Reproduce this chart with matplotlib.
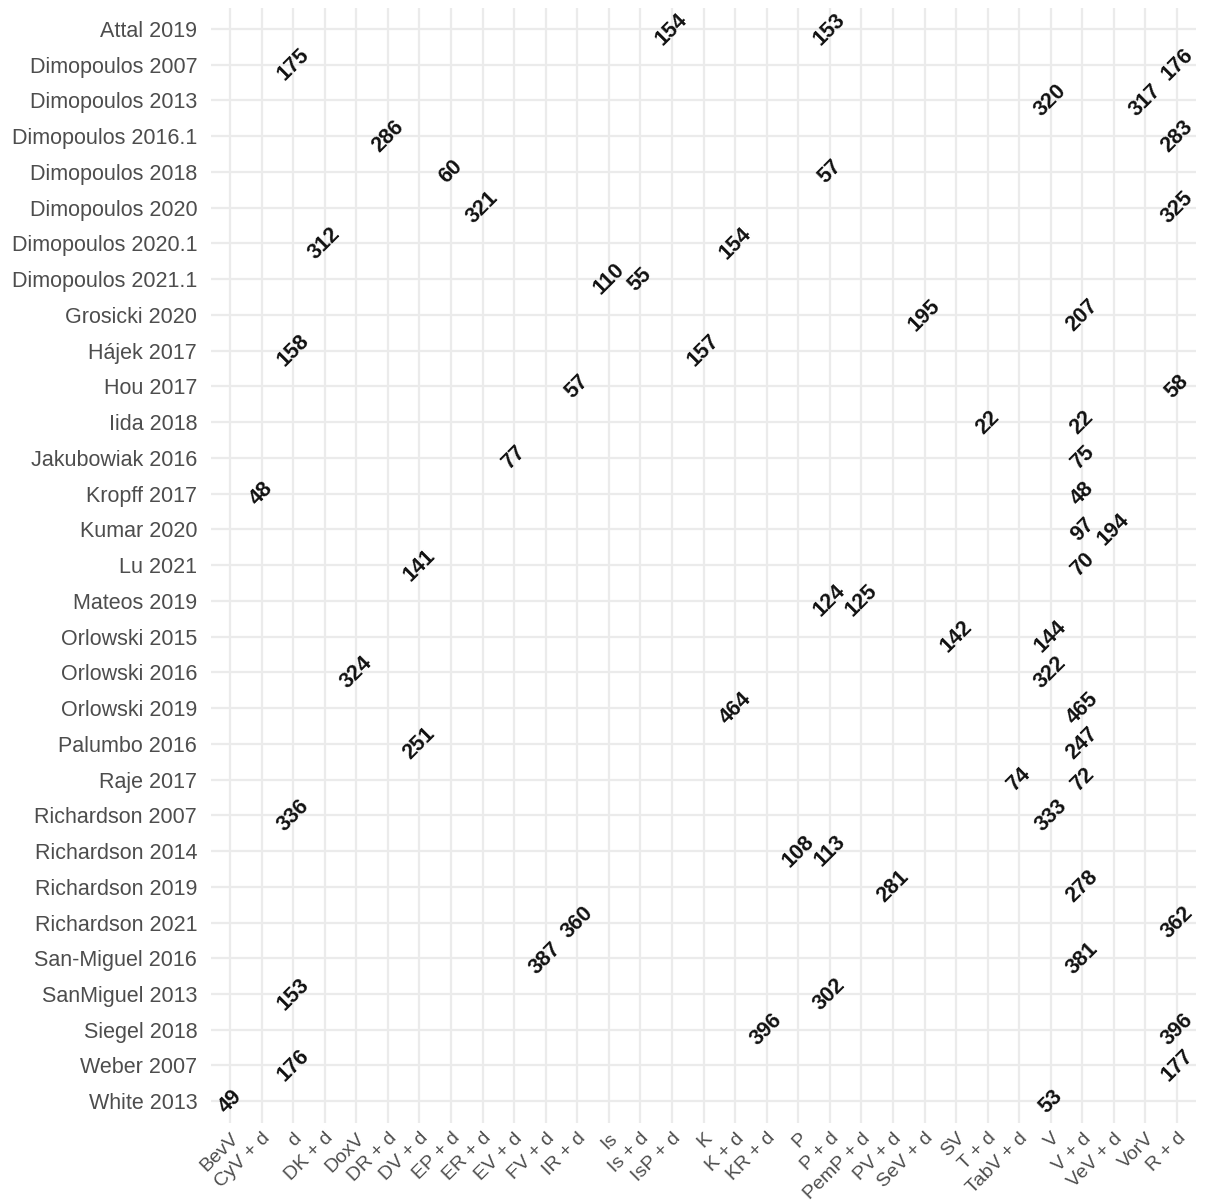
import matplotlib
matplotlib.use("Agg")
import matplotlib.pyplot as plt

# Treatment regimens along the x axis, in display order
regimens = ["BevV", "CyV + d", "d", "DK + d", "DoxV", "DR + d", "DV + d", "EP + d",
            "ER + d", "EV + d", "FV + d", "IR + d", "Is", "Is + d", "IsP + d", "K",
            "K + d", "KR + d", "P", "P + d", "PemP + d", "PV + d", "SeV + d", "SV",
            "T + d", "TabV + d", "V", "V + d", "VeV + d", "VorV", "R + d"]

# Trials, top to bottom
studies = ["Attal 2019", "Dimopoulos 2007", "Dimopoulos 2013", "Dimopoulos 2016.1",
           "Dimopoulos 2018", "Dimopoulos 2020", "Dimopoulos 2020.1", "Dimopoulos 2021.1",
           "Grosicki 2020", "Hájek 2017", "Hou 2017", "Iida 2018", "Jakubowiak 2016",
           "Kropff 2017", "Kumar 2020", "Lu 2021", "Mateos 2019", "Orlowski 2015",
           "Orlowski 2016", "Orlowski 2019", "Palumbo 2016", "Raje 2017",
           "Richardson 2007", "Richardson 2014", "Richardson 2019", "Richardson 2021",
           "San-Miguel 2016", "SanMiguel 2013", "Siegel 2018", "Weber 2007", "White 2013"]

# First arm of each trial and its number of patients
arm1_regimen = ["IsP + d", "d", "V", "DR + d", "EP + d", "ER + d", "DK + d", "Is",
                "SeV + d", "d", "IR + d", "T + d", "EV + d", "CyV + d", "V + d", "DV + d",
                "P + d", "SV", "DoxV", "K + d", "DV + d", "TabV + d", "d", "P",
                "PV + d", "IR + d", "FV + d", "d", "KR + d", "d", "BevV"]
arm1_n = [154, 175, 320, 286, 60, 321, 312, 110, 195, 158, 57, 22, 77, 48, 97, 141,
          124, 142, 324, 464, 251, 74, 336, 108, 281, 360, 387, 153, 396, 176, 49]

# Second arm of each trial and its number of patients
arm2_regimen = ["P + d", "R + d", "VorV", "R + d", "P + d", "R + d", "K + d", "Is + d",
                "V + d", "K", "R + d", "V + d", "V + d", "V + d", "VeV + d", "V + d",
                "PemP + d", "V", "V", "V + d", "V + d", "V + d", "V", "P + d",
                "V + d", "R + d", "V + d", "P + d", "R + d", "R + d", "V"]
arm2_n = [153, 176, 317, 283, 57, 325, 154, 55, 207, 157, 58, 22, 75, 48, 194, 70,
          125, 144, 322, 465, 247, 72, 333, 113, 278, 362, 381, 302, 396, 177, 53]

plt.rcParams["font.family"] = ["Liberation Sans", "DejaVu Sans"]

fig = plt.figure(figsize=(12.06, 12.02), dpi=100)
ax = fig.add_axes([0.175, 0.066, 0.8167, 0.9277])

xpos = {r: i for i, r in enumerate(regimens)}
for row, (r1, n1, r2, n2) in enumerate(zip(arm1_regimen, arm1_n, arm2_regimen, arm2_n)):
    for reg, n in ((r1, n1), (r2, n2)):
        ax.text(xpos[reg], row, str(n), rotation=45, ha="center", va="center",
                fontsize=15.5, fontweight="bold", color="#111111")

ax.set_xticks(range(len(regimens)))
ax.set_xticklabels(regimens, rotation=45, ha="right", rotation_mode="anchor",
                   fontsize=14, color="#4d4d4d")
ax.set_yticks(range(len(studies)))
ax.set_yticklabels(studies, fontsize=15.5, color="#4d4d4d")
ax.set_xlim(-0.6, len(regimens) - 0.4)
ax.set_ylim(len(studies) - 0.4, -0.6)

ax.tick_params(axis="both", length=0)
ax.tick_params(axis="y", pad=10)
ax.tick_params(axis="x", pad=5)
ax.grid(True, color="#ebebeb", linewidth=1.6)
ax.set_axisbelow(True)
for s in ax.spines.values():
    s.set_visible(False)

fig.savefig("out.png", dpi=100, facecolor="white")
